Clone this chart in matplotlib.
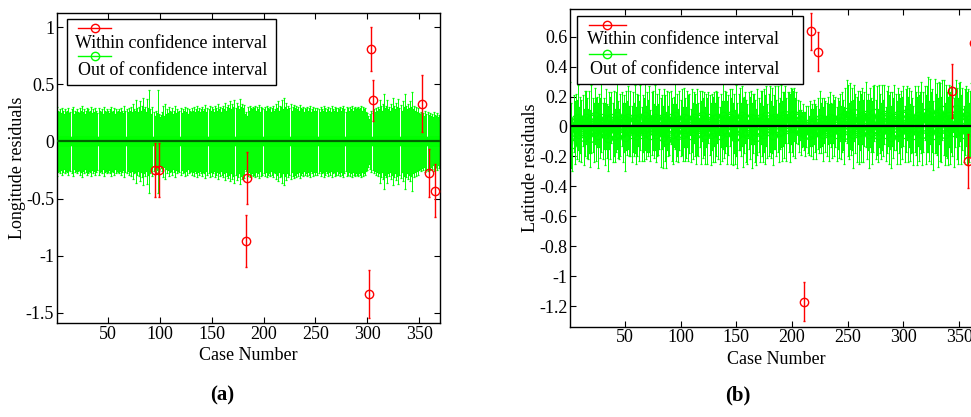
import matplotlib
matplotlib.use("Agg")
import matplotlib.pyplot as plt
import numpy as np
from matplotlib.patches import Rectangle
from matplotlib.lines import Line2D

plt.rcParams["font.family"] = ["Liberation Serif", "DejaVu Serif"]
plt.rcParams["font.size"] = 13

GREEN = "#00ff00"
RED = "#ff0000"

# ---- panel (a): longitude residuals ----
# half width of the green error bars, hundredths, cases 1..370
lon_err = [
    30, 27, 26, 28, 25, 29, 27, 24, 28, 26,
    27, 29, 25, 26, 28, 30, 24, 27, 26, 28,
    26, 25, 29, 27, 31, 26, 28, 24, 27, 29,
    28, 26, 27, 30, 25, 28, 26, 29, 27, 25,
    29, 27, 26, 28, 24, 30, 27, 26, 28, 27,
    25, 28, 30, 26, 27, 29, 24, 28, 26, 27,
    28, 26, 29, 27, 25, 31, 27, 28, 26, 29,
    27, 30, 26, 33, 28, 27, 36, 29, 26, 30,
    35, 27, 31, 38, 28, 30, 26, 37, 29, 45,
    28, 24, 30, 26, 22, 27, 25, 45, 24, 21,
    23, 26, 31, 22, 33, 24, 28, 25, 30, 27,
    26, 29, 24, 27, 31, 25, 28, 26, 27, 29,
    25, 28, 27, 30, 26, 29, 24, 28, 27, 26,
    29, 27, 30, 26, 28, 31, 27, 29, 26, 28,
    30, 27, 28, 32, 26, 29, 28, 31, 27, 30,
    28, 26, 31, 29, 27, 33, 28, 30, 26, 29,
    31, 28, 34, 27, 30, 32, 29, 35, 28, 33,
    30, 36, 29, 34, 31, 28, 37, 30, 33, 29,
    32, 24, 26, 22, 30, 27, 31, 29, 28, 30,
    29, 31, 27, 30, 28, 32, 26, 30, 29, 28,
    30, 27, 31, 29, 28, 30, 26, 29, 31, 27,
    28, 33, 29, 35, 27, 31, 30, 36, 28, 38,
    30, 34, 28, 31, 29, 33, 27, 30, 32, 29,
    31, 28, 30, 27, 32, 29, 28, 30, 26, 29,
    28, 30, 27, 29, 31, 26, 28, 30, 27, 29,
    27, 29, 28, 26, 30, 28, 27, 31, 29, 26,
    28, 30, 27, 29, 26, 31, 28, 27, 30, 29,
    26, 29, 28, 30, 27, 29, 31, 28, 26, 30,
    29, 27, 30, 28, 31, 27, 29, 30, 28, 29,
    30, 28, 29, 31, 27, 30, 28, 29, 26, 25,
    22, 20, 24, 27, 25, 28, 26, 29, 27, 30,
    28, 36, 31, 27, 33, 42, 29, 31, 36, 28,
    30, 27, 33, 29, 38, 31, 28, 34, 30, 37,
    29, 32, 27, 35, 30, 42, 31, 28, 33, 29,
    35, 30, 43, 28, 31, 27, 30, 26, 29, 25,
    24, 26, 23, 25, 22, 27, 24, 26, 23, 25,
    22, 24, 21, 26, 23, 22, 25, 21, 23, 19,
]
lon_red_case = [95, 99, 184, 183, 304, 305, 302, 353, 359, 365]
lon_red_val = [-0.25, -0.25, -0.32, -0.87, 0.81, 0.36, -1.34, 0.33, -0.28, -0.43]
lon_red_err = [0.24, 0.24, 0.23, 0.23, 0.19, 0.18, 0.21, 0.25, 0.21, 0.23]

# ---- panel (b): latitude residuals ----
# green centres and half widths, hundredths, cases 1..370
lat_val = [
    3, -6, -12, 2, -4, 5, -2, 6, -5, 1,
    -3, 4, -7, 2, 6, -1, -5, 3, -8, 5,
    1, -4, 7, -2, 3, -6, 4, -1, 6, -3,
    2, -5, 5, -3, -8, 4, -1, 6, -4, 2,
    -6, 3, 7, -2, -5, 1, 5, -4, 2, -7,
    4, -1, 6, -3, 2, -5, 3, -2, 5, -6,
    1, 4, -3, 6, -5, 2, -2, 7, -4, 3,
    -1, 5, -6, 2, 4, -3, 6, -5, 1, -2,
    5, -4, 3, -7, 6, -1, -9, 4, -3, 2,
    6, -2, -5, 3, 7, -4, 1, -6, 4, -1,
    3, -5, 6, -2, -4, 5, -1, 2, -6, 4,
    -3, 6, 1, -5, 3, -2, 5, -4, 7, -1,
    2, -6, 4, -3, 6, 1, -5, 3, -2, 5,
    -4, 2, 6, -1, -6, 4, -3, 7, -2, 3,
    5, -4, 1, 6, -3, 8, -5, 2, -7, 4,
    -6, 3, 5, -2, 7, -4, 1, 6, -3, -5,
    4, -1, 6, -6, 2, 5, -3, -7, 3, 1,
    -4, 6, 2, -5, 4, -2, 7, -3, 1, 5,
    -2, 4, -6, 3, 6, -1, 5, -4, 2, 7,
    -3, 5, 1, 8, -2, 6, 3, -1, 7, 4,
    2, 8, -1, 6, 3, -3, 4, -4, -2, 1,
    -3, -5, 0, -2, -6, 2, -4, 1, -5, 3,
    -1, -4, 2, -3, 5, -1, 3, -5, 4, 0,
    -2, 4, -4, 6, 1, -3, 5, -1, 3, -5,
    2, -2, 6, -4, 3, 1, -6, 8, 10, 4,
    -3, 7, -1, 5, -5, 9, 2, -2, 6, -4,
    4, -1, 7, -3, 5, 8, -2, 3, -5, 6,
    1, -4, 5, 9, -2, 4, -6, 7, 2, -3,
    6, -1, 8, -5, 3, 7, -2, 4, -7, 5,
    -1, 6, 3, -4, 8, 2, -3, 5, -1, 7,
    -5, 4, 9, -2, 6, -4, 3, 1, -6, 5,
    2, -3, 7, -1, 4, 6, -5, 3, 9, -2,
    5, 8, -3, 10, -1, 4, -6, 7, 2, 5,
    -4, 9, 3, -2, 11, 6, -5, 4, 1, -3,
    7, -1, 5, 0, -4, 6, 12, 2, -3, 8,
    10, -2, 5, -5, 3, 7, -1, 4, -4, 2,
    6, -3, 1, 4, -2, 5, -1, 3, -4, 2,
]
lat_err = [
    27, 22, 18, 19, 21, 17, 20, 22, 18, 19,
    21, 17, 19, 22, 18, 20, 17, 21, 19, 23,
    18, 20, 19, 21, 17, 22, 18, 20, 23, 19,
    17, 21, 20, 18, 22, 19, 21, 17, 20, 22,
    18, 20, 22, 19, 17, 21, 18, 20, 19, 23,
    20, 18, 21, 17, 22, 19, 20, 18, 23, 19,
    21, 17, 20, 22, 18, 19, 21, 23, 18, 20,
    19, 22, 17, 21, 20, 18, 22, 19, 21, 17,
    20, 23, 18, 21, 19, 22, 19, 20, 17, 21,
    18, 21, 20, 17, 22, 19, 21, 18, 20, 19,
    22, 18, 20, 21, 17, 19, 22, 20, 18, 21,
    19, 17, 21, 20, 22, 18, 19, 21, 17, 20,
    21, 19, 18, 22, 17, 20, 21, 19, 22, 18,
    20, 22, 17, 21, 19, 18, 20, 22, 19, 21,
    18, 21, 20, 19, 22, 17, 21, 20, 18, 24,
    22, 19, 21, 18, 20, 23, 19, 17, 21, 20,
    19, 21, 18, 22, 20, 17, 21, 19, 22, 18,
    20, 18, 22, 19, 21, 23, 20, 18, 21, 22,
    19, 22, 20, 18, 21, 19, 22, 20, 17, 21,
    20, 18, 22, 19, 21, 17, 20, 23, 19, 21,
    22, 18, 20, 17, 15, 14, 13, 15, 12, 14,
    13, 15, 14, 16, 13, 15, 16, 14, 17, 15,
    16, 18, 17, 15, 19, 17, 16, 18, 15, 17,
    18, 16, 19, 17, 15, 18, 16, 19, 17, 18,
    17, 19, 16, 18, 20, 17, 19, 18, 21, 24,
    19, 22, 18, 21, 23, 19, 20, 22, 18, 21,
    20, 23, 19, 21, 18, 22, 20, 19, 23, 20,
    18, 21, 22, 19, 20, 23, 18, 21, 20, 19,
    22, 19, 20, 18, 21, 20, 23, 19, 21, 18,
    20, 22, 19, 21, 18, 20, 22, 19, 21, 20,
    19, 21, 18, 22, 20, 19, 21, 18, 20, 22,
    21, 23, 20, 22, 19, 24, 21, 20, 18, 23,
    22, 25, 20, 22, 24, 21, 23, 25, 20, 24,
    23, 21, 26, 22, 20, 25, 21, 24, 22, 23,
    21, 24, 22, 20, 23, 20, 19, 24, 22, 21,
    20, 23, 21, 19, 22, 20, 24, 21, 20, 22,
    23, 20, 21, 19, 22, 20, 21, 23, 19, 20,
]
lat_red_case = [217, 223, 211, 344, 358, 363]
lat_red_val = [0.635, 0.50, -1.17, 0.235, -0.23, 0.56]
lat_red_err = [0.125, 0.13, 0.13, 0.18, 0.18, 0.18]

legend_labels = ["Within confidence interval", "Out of confidence interval"]


def draw_legend(ax, box, red_y, green_y, line_x, text1, text2):
    """MATLAB-style legend: sample line above each label."""
    x0, y0, x1, y1 = box
    ax.add_patch(Rectangle((x0, y0), x1 - x0, y1 - y0, transform=ax.transAxes,
                           facecolor="white", edgecolor="black", lw=1.0, zorder=10))
    for y, col in ((red_y, RED), (green_y, GREEN)):
        lx0, lx1 = line_x
        ax.add_line(Line2D([lx0, lx1], [y, y], transform=ax.transAxes,
                           color=col, lw=1.0, zorder=11))
        ax.add_line(Line2D([(lx0 + lx1) / 2], [y], transform=ax.transAxes,
                           color=col, marker="o", ms=6, mfc="none", mew=1.0, zorder=11))
    ax.text(text1[0], text1[1], legend_labels[0], transform=ax.transAxes,
            ha="left", va="center", fontsize=13, zorder=12)
    ax.text(text2[0], text2[1], legend_labels[1], transform=ax.transAxes,
            ha="left", va="center", fontsize=13, zorder=12)


def panel(ax, vals, errs, red_case, red_val, red_err, zero_col):
    cases = np.arange(1, len(errs) + 1)
    ax.errorbar(cases, vals, yerr=errs, color=GREEN, ecolor=GREEN, lw=1.0,
                elinewidth=0.7, capsize=0.8, capthick=0.7, marker="o", ms=6,
                mfc="none", mew=0.9, zorder=2)
    ax.axhline(0, color=zero_col, lw=1.6, zorder=3)
    ax.errorbar(red_case, red_val, yerr=red_err, fmt="o", color=RED, ecolor=RED,
                elinewidth=1.0, capsize=0.8, capthick=0.8, ms=6, mfc="none",
                mew=1.0, zorder=4)
    ax.set_xlim(1, 370)
    ax.set_xticks([50, 100, 150, 200, 250, 300, 350])
    ax.tick_params(direction="in", top=True, right=True, length=4, width=0.8,
                   labelsize=13, pad=2)
    ax.yaxis.set_major_formatter(matplotlib.ticker.FormatStrFormatter("%g"))
    ax.set_xlabel("Case Number", fontsize=13, labelpad=3)


fig = plt.figure(figsize=(9.71, 4.17), dpi=100)

ax1 = fig.add_axes([0.0587, 0.2254, 0.3944, 0.7434])
panel(ax1, np.zeros(len(lon_err)), np.array(lon_err) / 100.0,
      lon_red_case, lon_red_val, lon_red_err, "#006400")
ax1.set_ylim(-1.59, 1.125)
ax1.set_yticks([-1.5, -1, -0.5, 0, 0.5, 1])
ax1.set_ylabel("Longitude residuals", fontsize=13, labelpad=0)
draw_legend(ax1, (0.026, 0.768, 0.572, 0.981), 0.952, 0.861, (0.055, 0.141),
            (0.047, 0.903), (0.055, 0.813))

ax2 = fig.add_axes([0.5873, 0.2165, 0.4234, 0.7612])
panel(ax2, np.array(lat_val) / 100.0, np.array(lat_err) / 100.0,
      lat_red_case, lat_red_val, lat_red_err, "black")
ax2.set_ylim(-1.338, 0.783)
ax2.set_yticks([-1.2, -1, -0.8, -0.6, -0.4, -0.2, 0, 0.2, 0.4, 0.6])
ax2.set_ylabel("Latitude residuals", fontsize=13, labelpad=0)
draw_legend(ax2, (0.017, 0.765, 0.567, 0.978), 0.951, 0.858, (0.046, 0.135),
            (0.040, 0.906), (0.048, 0.811))

for ax in (ax1, ax2):
    for s in ax.spines.values():
        s.set_linewidth(1.0)

fig.text(222 / 971, 1 - 395 / 417, "(a)", ha="center", va="center",
         fontsize=15, fontweight="bold")
fig.text(738 / 971, 1 - 395 / 417, "(b)", ha="center", va="center",
         fontsize=15, fontweight="bold")

fig.savefig("out.png", dpi=100)
